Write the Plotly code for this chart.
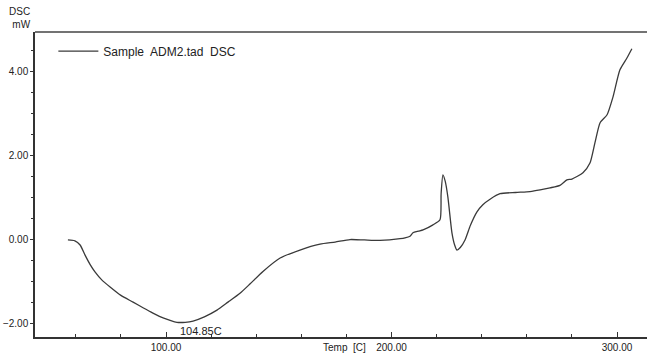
import plotly.graph_objects as go

temp = [56.5, 59.6, 61.9, 64.1, 66.3, 68.5, 71.5, 75.2, 80.0, 85.4, 90.0, 94.2, 99.0, 104.85,
        108.5, 112.0, 117.0, 122.6, 127.5, 132.8, 137.2, 143.0, 150.6, 159.4, 168.3, 175.0,
        181.6, 188.0, 194.9, 203.8, 206.0, 208.2, 209.5, 212.0, 214.0, 218.4, 221.5, 222.0,
        222.8, 223.8, 225.0, 226.8, 228.0, 229.0, 230.5, 232.6, 235.0, 237.9, 240.5, 243.7,
        248.1, 255.0, 261.4, 265.9, 270.3, 274.7, 277.8, 280.0, 284.9, 288.0, 290.2, 292.5,
        295.6, 298.2, 301.3, 304.4, 306.6]
dsc = [0.00, -0.02, -0.12, -0.36, -0.58, -0.76, -0.95, -1.12, -1.32, -1.48, -1.62, -1.74, -1.86, -1.96,
       -1.96, -1.93, -1.83, -1.67, -1.48, -1.27, -1.05, -0.75, -0.43, -0.24, -0.10, -0.05,
       0.01, 0.00, -0.01, 0.03, 0.05, 0.09, 0.17, 0.21, 0.24, 0.36, 0.48, 1.10,
       1.55, 1.40, 1.02, 0.17, -0.12, -0.24, -0.18, 0.00, 0.35, 0.67, 0.84, 0.97,
       1.10, 1.13, 1.15, 1.19, 1.24, 1.30, 1.43, 1.45, 1.60, 1.83, 2.31, 2.79,
       2.98, 3.40, 4.05, 4.33, 4.55]

peak_label = "104.85C"
peak_x = 104.85
peak_y = -1.96

FONT = "Liberation Sans, Arial, sans-serif"

fig = go.Figure()
fig.add_trace(go.Scatter(x=temp, y=dsc, mode="lines", name="Sample  ADM2.tad  DSC",
                         line=dict(color="#3a3a3a", width=1.3, shape="spline", smoothing=0.6)))

fig.update_layout(
    width=647, height=353,
    margin=dict(l=35, r=0, t=32, b=16),
    paper_bgcolor="white", plot_bgcolor="white",
    font=dict(family=FONT, color="#222", size=10),
    showlegend=True,
    legend=dict(x=0.03, y=0.985, xanchor="left", yanchor="top", bgcolor="rgba(0,0,0,0)",
                itemwidth=40,
                font=dict(size=12, family=FONT, color="#222")),
    xaxis=dict(range=[41.9, 313.3], showgrid=False, zeroline=False,
               showline=True, linecolor="#333", linewidth=1.5, mirror=False,
               tickmode="array", tickvals=[100, 200, 300], tickformat=".2f",
               ticks="inside", ticklen=5, tickcolor="#333",
               tickfont=dict(size=10, family=FONT, color="#222"),
               minor=dict(tickmode="linear", tick0=0, dtick=20, ticks="inside", ticklen=3, tickcolor="#333")),
    yaxis=dict(range=[-2.31, 4.95], showgrid=False, zeroline=False,
               showline=True, linecolor="#333", linewidth=1.5,
               tickmode="array", tickvals=[-2, 0, 2, 4], tickformat=".2f",
               ticks="outside", ticklen=3, tickcolor="#333",
               tickfont=dict(size=10, family=FONT, color="#222"),
               minor=dict(tickmode="linear", tick0=0, dtick=0.5, ticks="outside", ticklen=2, tickcolor="#333")),
)

# top border line
fig.add_shape(type="line", xref="paper", yref="paper", x0=0, x1=1, y0=1, y1=1,
              line=dict(color="#444", width=1.5))

fig.add_annotation(x=peak_x, y=peak_y, text=peak_label, showarrow=False,
                   xanchor="left", yanchor="top", xshift=1, yshift=-1,
                   font=dict(size=11, family=FONT, color="#222"))
fig.add_annotation(xref="paper", yref="paper", x=-0.003, y=1.0, text="DSC<br>mW",
                   showarrow=False, xanchor="right", yanchor="bottom", align="right",
                   font=dict(size=10, family=FONT, color="#222"))
fig.add_annotation(xref="paper", yref="paper", x=0.506, y=-0.01, text="Temp  [C]",
                   showarrow=False, xanchor="center", yanchor="top",
                   font=dict(size=10, family=FONT, color="#222"))

fig.write_html("out.html")
